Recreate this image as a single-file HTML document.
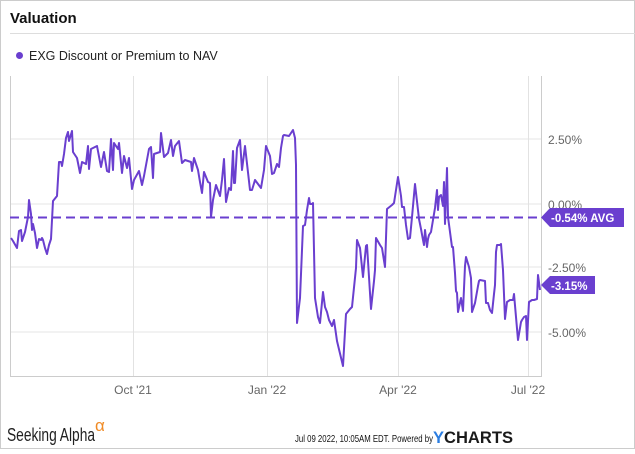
<!DOCTYPE html>
<html><head><meta charset="utf-8"><style>
body{margin:0;width:635px;height:449px;background:#fff;overflow:hidden;font-family:"Liberation Sans",sans-serif;}
</style></head><body>
<svg width="635" height="449" viewBox="0 0 635 449" xmlns="http://www.w3.org/2000/svg" font-family="Liberation Sans, sans-serif">
<rect x="0.5" y="0.5" width="634" height="448" fill="#fff" stroke="#ccc"/>
<text x="10" y="23" font-size="15" font-weight="bold" fill="#111">Valuation</text>
<line x1="10" y1="33.5" x2="635" y2="33.5" stroke="#ddd"/>
<circle cx="19.5" cy="55.5" r="3.5" fill="#6a3fcf"/>
<text x="29" y="60" font-size="12.5" fill="#222">EXG Discount or Premium to NAV</text>
<g stroke="#eee" stroke-width="1.5">
<line x1="10" y1="139" x2="541" y2="139"/><line x1="10" y1="204" x2="541" y2="204"/>
<line x1="10" y1="267" x2="541" y2="267"/><line x1="10" y1="332" x2="541" y2="332"/>
</g>
<g stroke="#e2e2e2" stroke-width="1">
<line x1="133.5" y1="76" x2="133.5" y2="376"/><line x1="267.5" y1="76" x2="267.5" y2="376"/>
<line x1="398.5" y1="76" x2="398.5" y2="376"/><line x1="528.5" y1="76" x2="528.5" y2="376"/>
</g>
<polyline fill="none" stroke="#ccc" stroke-width="1" points="10.5,76 10.5,376.5 541.5,376.5 541.5,76"/>
<g font-size="12" fill="#666">
<text x="548" y="144">2.50%</text><text x="548" y="209">0.00%</text>
<text x="548" y="272">-2.50%</text><text x="548" y="337">-5.00%</text>
<text x="133" y="394" text-anchor="middle">Oct '21</text><text x="267" y="394" text-anchor="middle">Jan '22</text>
<text x="398" y="394" text-anchor="middle">Apr '22</text><text x="528" y="394" text-anchor="middle">Jul '22</text>
</g>
<line x1="10" y1="217.5" x2="541" y2="217.5" stroke="#6a3fcf" stroke-width="2" stroke-dasharray="9,5"/>
<polyline fill="none" stroke="#6a3fcf" stroke-width="2" stroke-linejoin="round" points="11,238 13,241 17,248 19,231 21,230 22,241 25,232 28,217 29,200 31,214 32,230 33,224 35,233 37,248 39,239 41,240 42,238 43,240 45,248 47,254 49,245 51,239 53,201 57,196 59,162 61,162 62,166 64,154 66,138 68,132 69,141 72,131 73,152 77,158 80,173 82,162 86,164 88,146 89,169 91,149 97,146 101,167 104,152 107,171 109,172 111,139 113,170 114,143 118,149 119,143 122,173 124,156 127,168 129,158 132,189 134,180 139,171 142,185 144,176 149,149 151,147 153,178 154,154 160,152 161,133 164,157 168,153 171,140 173,156 175,146 179,141 182,163 185,160 191,162 192,171 194,158 198,170 200,182 202,193 204,172 206,177 208,182 210,183 211,217 213,200 216,185 220,196 222,180 224,159 226,202 229,188 231,190 233,151 234,183 235,183 237,148 240,140 242,170 245,146 250,190 252,190 255,180 261,188 264,170 266,146 268,151 270,156 272,174 274,173 277,164 279,167 281,148 283,136 284,135 289,136 293,130 295,138 296,165 297,323 300,298 303,226 305,225 307,210 309,198 310,204 312,204 313,203 315,298 318,317 320,323 323,292 325,307 327,312 329,320 332,326 334,320 337,341 343,366 346,314 350,309 352,307 356,268 357,240 360,248 363,277 366,246 367,245 371,309 374,281 375,270 376,238 380,245 382,248 385,267 387,209 392,205 394,203 398,177 401,196 402,207 404,207 406,225 408,239 410,238 412,217 415,184 419,219 421,229 423,240 424,245 425,230 427,247 428,239 429,235 431,232 435,208 437,190 438,210 439,197 441,195 443,206 444,182 445,224 447,168 448,217 452,247 453,247 455,273 456,291 457,293 458,312 461,298 463,311 465,266 466,257 469,267 471,278 472,312 475,303 478,286 479,281 480,280 485,281 486,303 488,303 490,310 492,313 494,294 495,285 496,252 497,245 500,245 501,244 503,270 505,319 507,302 510,300 513,300 514,294 518,340 521,322 522,320 524,317 526,316 527,340 529,302 532,300 534,300 537,299 538,275 540,290"/>
<polygon points="541,217.5 550,208 624,208 624,227 550,227" fill="#6a3fcf"/>
<text x="551" y="222" font-size="11.5" font-weight="bold" fill="#fff">-0.54% AVG</text>
<polygon points="541,285 550,276 595,276 595,294 550,294" fill="#6a3fcf"/>
<text x="551" y="290" font-size="11.5" font-weight="bold" fill="#fff">-3.15%</text>
<text x="7" y="441" font-size="18" fill="#222" textLength="88" lengthAdjust="spacingAndGlyphs">Seeking Alpha</text>
<text x="95" y="431" font-size="17" fill="#f08a24">α</text>
<text x="295" y="442" font-size="10.5" fill="#111" textLength="138" lengthAdjust="spacingAndGlyphs">Jul 09 2022, 10:05AM EDT.  Powered by</text>
<text x="433" y="443" font-size="17" font-weight="bold" fill="#1a1a1a" textLength="80" lengthAdjust="spacingAndGlyphs"><tspan fill="#2a7de1">Y</tspan>CHARTS</text>
</svg>
</body></html>
